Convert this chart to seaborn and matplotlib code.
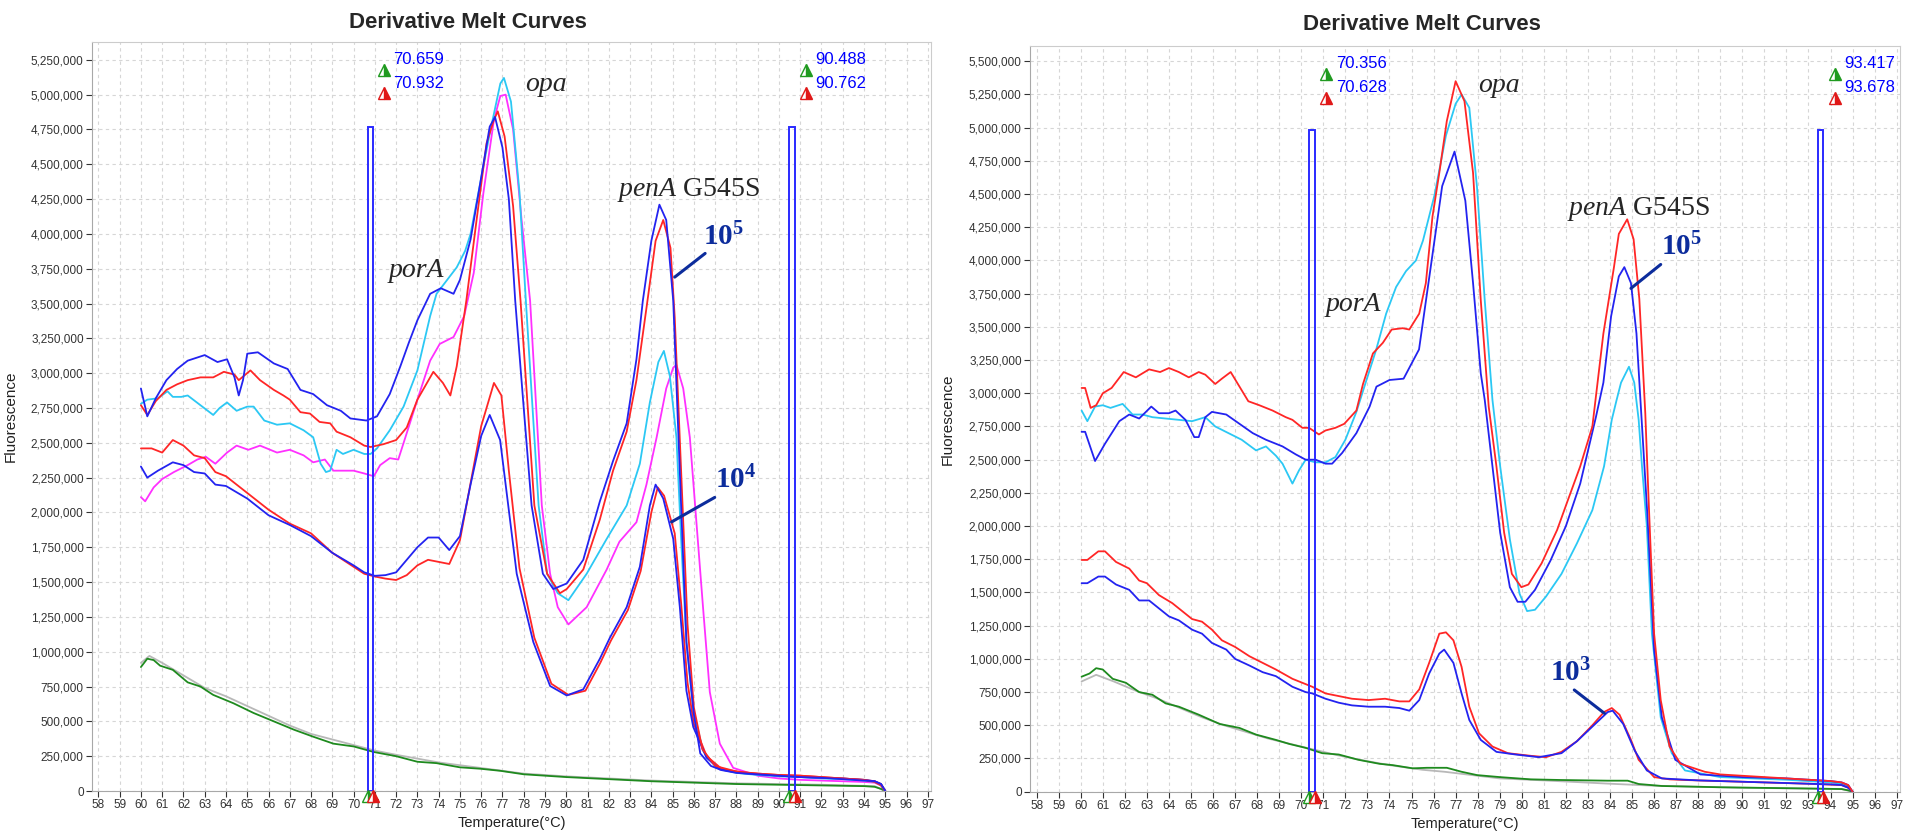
import matplotlib
matplotlib.use('Agg')
import pandas as pd
import matplotlib.pyplot as plt
import matplotlib.ticker as ticker
import matplotlib.transforms as mtransforms
from matplotlib.patches import Rectangle
import seaborn as sns

M = 1e6  # fluorescence values below are in millions

# ---------------- left panel (10^5 / 10^4) ----------------
L_b5_t = [60.0, 60.3, 60.7, 61.2, 61.7, 62.2, 62.6, 63.0, 63.6, 64.05, 64.4, 64.6, 64.8, 65.0, 65.5, 66.25,
          66.9, 67.5, 68.1, 68.75, 69.4, 69.85, 70.6, 71.1, 71.7, 72.2, 72.6, 73.0, 73.6, 74.1, 74.7, 75.0,
          75.5, 75.95, 76.4, 76.65, 77.0, 77.3, 77.6, 78.0, 78.37, 78.9, 79.39, 80.02, 80.8, 81.58, 82.2,
          82.84, 83.3, 83.6, 84.0, 84.38, 84.7, 85.03, 85.4, 85.65, 86.0, 86.3, 86.8, 87.3, 88.0, 89.0,
          90.0, 91.0, 92.0, 93.0, 94.0, 94.5, 94.8, 95.0]
L_b5_v = [2.89, 2.69, 2.82, 2.95, 3.03, 3.09, 3.11, 3.13, 3.08, 3.10, 2.97, 2.84, 2.95, 3.14, 3.15, 3.07,
          3.03, 2.88, 2.85, 2.77, 2.73, 2.675, 2.66, 2.69, 2.85, 3.05, 3.22, 3.38, 3.57, 3.61, 3.57, 3.67,
          3.96, 4.36, 4.77, 4.84, 4.62, 4.25, 3.52, 2.75, 2.05, 1.56, 1.45, 1.49, 1.66, 2.08, 2.37,
          2.64, 3.10, 3.52, 3.95, 4.21, 4.10, 3.52, 2.05, 1.07, 0.55, 0.27, 0.18, 0.15, 0.13, 0.12,
          0.11, 0.10, 0.095, 0.085, 0.075, 0.07, 0.05, 0.0]

L_r5_t = [60.0, 60.3, 60.7, 61.2, 61.7, 62.2, 62.8, 63.4, 63.9, 64.4, 64.6, 65.15, 65.6, 66.25, 66.7, 67.0,
          67.5, 67.95, 68.4, 68.9, 69.2, 69.85, 70.5, 70.8, 71.4, 72.0, 72.5, 73.0, 73.75, 74.2, 74.55,
          74.85, 75.3, 75.8, 76.25, 76.6, 76.78, 77.1, 77.5, 77.85, 78.5, 79.1, 79.7, 80.02, 80.8, 81.58,
          82.2, 82.84, 83.3, 83.8, 84.2, 84.56, 84.9, 85.1, 85.4, 85.7, 86.0, 86.4, 87.0, 88.0, 89.0,
          90.0, 91.0, 92.0, 93.0, 94.0, 94.5, 94.8, 95.0]
L_r5_v = [2.77, 2.70, 2.80, 2.88, 2.92, 2.95, 2.97, 2.97, 3.01, 2.99, 2.95, 3.02, 2.95, 2.88, 2.84, 2.81,
          2.72, 2.71, 2.65, 2.64, 2.58, 2.54, 2.48, 2.47, 2.49, 2.52, 2.61, 2.81, 3.01, 2.93, 2.84,
          3.05, 3.52, 4.12, 4.65, 4.82, 4.88, 4.70, 4.20, 3.52, 2.05, 1.56, 1.42, 1.45, 1.59, 1.95,
          2.30, 2.58, 2.95, 3.50, 3.95, 4.10, 3.90, 3.40, 2.30, 1.20, 0.60, 0.30, 0.18, 0.14, 0.125,
          0.115, 0.11, 0.10, 0.09, 0.08, 0.065, 0.04, 0.0]

L_c5_t = [60.0, 60.3, 60.8, 61.25, 61.5, 61.9, 62.2, 62.8, 63.4, 63.7, 64.05, 64.5, 65.0, 65.3, 65.8, 66.4,
          67.0, 67.65, 68.1, 68.45, 68.7, 68.9, 69.2, 69.5, 70.0, 70.5, 70.8, 71.1, 71.7, 72.35, 73.0,
          73.6, 73.9, 74.4, 74.85, 75.25, 75.5, 75.95, 76.4, 76.9, 77.07, 77.4, 77.8, 78.1, 78.7, 79.1,
          79.6, 80.1, 80.96, 81.9, 82.84, 83.46, 83.93, 84.33, 84.59, 84.87, 85.18, 85.4, 85.65, 85.97,
          86.43, 87.06, 88.0, 89.0, 90.0, 91.0, 92.0, 93.0, 94.0, 94.5, 94.8, 95.0]
L_c5_v = [2.78, 2.81, 2.82, 2.87, 2.83, 2.83, 2.84, 2.77, 2.70, 2.75, 2.79, 2.73, 2.76, 2.76, 2.66, 2.63,
          2.64, 2.59, 2.54, 2.35, 2.29, 2.30, 2.45, 2.42, 2.45, 2.42, 2.42, 2.46, 2.59, 2.76, 3.02,
          3.41, 3.57, 3.67, 3.76, 3.88, 4.00, 4.36, 4.72, 5.08, 5.12, 4.95, 4.30, 3.52, 2.05, 1.56,
          1.42, 1.37, 1.56, 1.81, 2.05, 2.35, 2.79, 3.08, 3.16, 2.98, 2.54, 1.81, 1.07, 0.58,
          0.29, 0.166, 0.13, 0.115, 0.105, 0.10, 0.09, 0.085, 0.075, 0.065, 0.04, 0.0]

L_m5_t = [60.0, 60.2, 60.6, 61.0, 61.55, 62.2, 62.65, 63.05, 63.5, 64.05, 64.5, 65.05, 65.6, 66.4, 67.0,
          67.65, 68.1, 68.65, 69.05, 70.0, 70.5, 70.95, 71.25, 71.7, 72.1, 72.5, 73.0, 73.6, 74.05, 74.7,
          75.2, 75.65, 76.1, 76.6, 76.9, 77.15, 77.5, 77.9, 78.3, 78.85, 79.24, 79.6, 80.1, 80.96, 81.9,
          82.5, 83.3, 83.77, 84.25, 84.7, 85.03, 85.18, 85.5, 85.81, 86.12, 86.43, 86.75, 87.22, 87.85,
          89.0, 90.0, 91.0, 92.0, 93.0, 94.0, 94.5, 94.8, 95.0]
L_m5_v = [2.11, 2.08, 2.18, 2.24, 2.29, 2.34, 2.38, 2.40, 2.35, 2.43, 2.48, 2.45, 2.48, 2.43, 2.45,
          2.41, 2.36, 2.38, 2.30, 2.30, 2.28, 2.26, 2.34, 2.39, 2.38, 2.57, 2.81, 3.09, 3.21, 3.26,
          3.41, 3.72, 4.29, 4.82, 4.99, 5.00, 4.75, 4.10, 3.52, 2.05, 1.56, 1.32, 1.196, 1.32, 1.59,
          1.79, 1.93, 2.20, 2.54, 2.89, 3.04, 3.06, 2.89, 2.54, 1.93, 1.32, 0.71, 0.34, 0.166,
          0.11, 0.09, 0.08, 0.075, 0.07, 0.065, 0.06, 0.04, 0.0]

L_b4_t = [60.0, 60.3, 60.8, 61.5, 62.0, 62.5, 63.0, 63.5, 64.0, 65.0, 66.0, 67.0, 68.0, 69.0, 70.0, 70.5,
          71.0, 71.5, 72.0, 72.5, 73.0, 73.5, 74.0, 74.5, 75.0, 75.5, 76.0, 76.4, 76.89, 77.67, 78.45,
          79.24, 80.02, 80.8, 81.58, 82.05, 82.84, 83.46, 83.93, 84.2, 84.56, 85.03, 85.34, 85.65, 85.97,
          86.59, 87.22, 88.16, 89.0, 90.0, 91.0, 92.0, 93.0, 94.0, 94.5, 94.8, 95.0]
L_b4_v = [2.33, 2.25, 2.30, 2.36, 2.34, 2.29, 2.28, 2.20, 2.19, 2.10, 1.98, 1.91, 1.83, 1.71, 1.62, 1.57,
          1.545, 1.55, 1.57, 1.66, 1.75, 1.82, 1.82, 1.73, 1.83, 2.20, 2.55, 2.70, 2.52, 1.56, 1.07,
          0.754, 0.686, 0.73, 0.95, 1.10, 1.32, 1.61, 2.05, 2.20, 2.10, 1.81, 1.32, 0.72, 0.46,
          0.24, 0.155, 0.13, 0.12, 0.11, 0.10, 0.095, 0.09, 0.08, 0.07, 0.05, 0.0]

L_r4_t = [60.0, 60.5, 61.0, 61.5, 62.0, 62.5, 63.0, 63.5, 64.0, 65.0, 66.0, 67.0, 68.0, 69.0, 70.0, 70.5,
          71.0, 71.5, 72.0, 72.5, 73.0, 73.5, 74.0, 74.5, 75.0, 75.5, 76.0, 76.6, 76.95, 77.3, 77.8,
          78.5, 79.3, 80.1, 80.9, 81.6, 82.1, 82.9, 83.5, 84.0, 84.3, 84.6, 85.1, 85.4, 85.7, 86.0,
          86.6, 87.3, 88.2, 89.0, 90.0, 91.0, 92.0, 93.0, 94.0, 94.5, 94.8, 95.0]
L_r4_v = [2.46, 2.46, 2.43, 2.52, 2.48, 2.41, 2.39, 2.29, 2.26, 2.14, 2.02, 1.92, 1.85, 1.71, 1.61, 1.56,
          1.54, 1.525, 1.515, 1.55, 1.62, 1.66, 1.645, 1.63, 1.80, 2.21, 2.62, 2.93, 2.84, 2.30, 1.60,
          1.10, 0.77, 0.69, 0.72, 0.92, 1.08, 1.30, 1.58, 2.00, 2.18, 2.12, 1.85, 1.35, 0.78, 0.48,
          0.25, 0.16, 0.135, 0.125, 0.115, 0.11, 0.10, 0.09, 0.08, 0.07, 0.05, 0.0]

L_g_t = [60.0, 60.3, 60.6, 60.9, 61.5, 62.2, 62.8, 63.4, 64.35, 65.3, 66.25, 67.2, 68.1, 69.05, 70.0, 70.95,
         72.0, 73.0, 73.9, 75.0, 75.95, 76.9, 78.0, 80.0, 82.0, 84.0, 86.0, 88.0, 90.0, 92.0, 94.0, 94.5,
         94.8, 95.0]
L_g_v = [0.89, 0.95, 0.94, 0.90, 0.87, 0.78, 0.75, 0.69, 0.63, 0.56, 0.50, 0.44, 0.39, 0.34, 0.32, 0.28,
         0.25, 0.21, 0.20, 0.17, 0.16, 0.145, 0.12, 0.10, 0.085, 0.07, 0.06, 0.05, 0.045, 0.04, 0.035, 0.03,
         0.015, 0.0]

L_k_t = [60.0, 60.4, 61.0, 62.0, 63.0, 64.0, 65.0, 66.0, 67.0, 68.0, 69.0, 70.0, 71.0, 72.0, 74.0, 76.0,
         78.0, 80.0, 84.0, 88.0, 92.0, 94.5, 95.0]
L_k_v = [0.92, 0.97, 0.92, 0.83, 0.74, 0.68, 0.61, 0.54, 0.47, 0.41, 0.37, 0.33, 0.29, 0.26, 0.205, 0.165,
         0.125, 0.105, 0.075, 0.055, 0.045, 0.035, 0.0]

# ---------------- right panel (10^5 / 10^3) ----------------
R_r5_t = [60.04, 60.2, 60.45, 60.7, 61.0, 61.4, 61.95, 62.5, 63.1, 63.6, 64.0, 64.45, 64.9, 65.35, 65.65,
          66.1, 66.4, 66.8, 67.2, 67.6, 68.1, 68.7, 69.3, 69.6, 70.05, 70.35, 70.8, 71.1, 71.55, 71.95,
          72.5, 72.8, 73.25, 73.7, 74.1, 74.6, 74.9, 75.35, 75.65, 75.95, 76.26, 76.6, 77.0, 77.4, 77.79,
          78.14, 78.5, 78.85, 79.2, 79.55, 79.98, 80.3, 80.9, 81.6, 82.1, 82.65, 83.2, 83.7, 84.18, 84.4,
          84.78, 85.07, 85.33, 85.6, 85.75, 86.0, 86.3, 86.7, 87.2, 88.3, 89.0, 91.0, 93.0, 94.0, 94.5,
          94.8, 95.0]
R_r5_v = [3.04, 3.04, 2.89, 2.91, 3.00, 3.04, 3.16, 3.12, 3.18, 3.16, 3.19, 3.16, 3.12, 3.16, 3.14,
          3.07, 3.11, 3.16, 3.05, 2.94, 2.91, 2.87, 2.82, 2.80, 2.74, 2.74, 2.69, 2.72, 2.74, 2.77,
          2.87, 3.07, 3.30, 3.38, 3.48, 3.49, 3.48, 3.60, 3.83, 4.33, 4.66, 5.05, 5.35, 5.20, 4.66,
          3.70, 2.90, 2.45, 1.95, 1.64, 1.54, 1.56, 1.72, 1.97, 2.20, 2.45, 2.75, 3.45, 3.95, 4.20,
          4.31, 4.16, 3.71, 2.85, 2.20, 1.19, 0.69, 0.34, 0.21, 0.15, 0.13, 0.11, 0.09, 0.08, 0.07,
          0.05, 0.0]

R_c5_t = [60.04, 60.3, 60.65, 61.0, 61.35, 61.9, 62.35, 62.8, 63.25, 63.85, 64.45, 65.05, 65.65, 66.1,
          66.7, 67.3, 67.95, 68.4, 68.85, 69.15, 69.6, 69.9, 70.2, 70.65, 71.1, 71.55, 72.0, 72.5, 72.9,
          73.4, 73.85, 74.3, 74.75, 75.2, 75.52, 76.04, 76.56, 77.0, 77.27, 77.62, 77.97, 78.32, 78.67,
          79.02, 79.46, 79.9, 80.24, 80.6, 81.1, 81.8, 82.5, 83.2, 83.73, 84.08, 84.3, 84.5, 84.86, 85.1,
          85.3, 85.45, 85.67, 85.9, 86.3, 86.8, 87.4, 89.0, 92.0, 94.0, 94.5, 94.8, 95.0]
R_c5_v = [2.87, 2.79, 2.90, 2.91, 2.89, 2.92, 2.84, 2.84, 2.82, 2.81, 2.80, 2.79, 2.82, 2.75,
          2.70, 2.65, 2.57, 2.60, 2.53, 2.47, 2.32, 2.42, 2.50, 2.48, 2.48, 2.52, 2.65, 2.86, 3.07,
          3.33, 3.60, 3.80, 3.92, 4.00, 4.15, 4.49, 4.94, 5.18, 5.25, 5.15, 4.55, 3.70, 2.95,
          2.45, 1.90, 1.49, 1.36, 1.37, 1.47, 1.64, 1.87, 2.12, 2.45, 2.80, 2.95, 3.08, 3.20, 3.08,
          2.80, 2.45, 2.00, 1.19, 0.56, 0.29, 0.16, 0.11, 0.09, 0.07, 0.06, 0.04, 0.0]

R_b5_t = [60.04, 60.2, 60.65, 61.1, 61.75, 62.2, 62.65, 63.2, 63.55, 64.0, 64.3, 64.75, 65.15, 65.35,
          65.65, 65.95, 66.6, 67.2, 67.8, 68.4, 69.15, 69.75, 70.2, 70.65, 71.1, 71.4, 71.85, 72.5, 73.1,
          73.41, 74.0, 74.64, 75.34, 75.87, 76.39, 76.95, 77.44, 77.79, 78.14, 78.32, 78.67, 79.02, 79.46,
          79.81, 80.16, 80.6, 81.3, 82.0, 82.65, 83.36, 83.7, 84.05, 84.4, 84.65, 84.95, 85.2, 85.38,
          85.7, 86.0, 86.35, 86.96, 88.1, 90.0, 92.0, 94.0, 94.5, 94.8, 95.0]
R_b5_v = [2.71, 2.71, 2.49, 2.62, 2.79, 2.84, 2.81, 2.90, 2.85, 2.85, 2.87, 2.80, 2.67, 2.67,
          2.82, 2.86, 2.84, 2.77, 2.70, 2.65, 2.60, 2.54, 2.50, 2.50, 2.47, 2.47, 2.55, 2.70, 2.90,
          3.05, 3.10, 3.11, 3.33, 3.95, 4.56, 4.82, 4.45, 3.83, 3.15, 2.95, 2.45, 1.95, 1.54,
          1.43, 1.43, 1.52, 1.74, 2.00, 2.32, 2.82, 3.08, 3.58, 3.88, 3.95, 3.83, 3.45, 2.95,
          2.07, 1.07, 0.56, 0.24, 0.13, 0.11, 0.10, 0.08, 0.07, 0.05, 0.0]

R_r3_t = [60.04, 60.3, 60.8, 61.1, 61.6, 62.2, 62.65, 63.0, 63.55, 64.15, 64.75, 65.05, 65.5, 65.95, 66.4,
          67.0, 67.65, 68.25, 68.85, 69.6, 70.05, 70.5, 71.1, 71.7, 72.3, 73.05, 73.8, 74.45, 74.9, 75.35,
          75.8, 76.26, 76.56, 76.9, 77.27, 77.62, 78.06, 78.67, 79.37, 80.42, 81.1, 81.8, 82.5, 83.2,
          83.73, 84.08, 84.43, 84.95, 85.3, 86.0, 86.7, 87.4, 90.0, 93.0, 94.5, 94.8, 95.0]
R_r3_v = [1.745, 1.745, 1.81, 1.81, 1.73, 1.68, 1.59, 1.57, 1.48, 1.42, 1.34, 1.30, 1.28, 1.22, 1.14,
          1.09, 1.02, 0.97, 0.92, 0.85, 0.82, 0.79, 0.74, 0.72, 0.70, 0.69, 0.70, 0.68, 0.68, 0.77,
          0.97, 1.19, 1.20, 1.14, 0.94, 0.64, 0.44, 0.34, 0.29, 0.27, 0.26, 0.30, 0.38, 0.50,
          0.60, 0.63, 0.58, 0.39, 0.24, 0.11, 0.093, 0.088, 0.075, 0.06, 0.05, 0.03, 0.0]

R_b3_t = [60.04, 60.3, 60.8, 61.1, 61.6, 62.2, 62.65, 63.1, 63.55, 64.0, 64.45, 65.05, 65.5, 65.95, 66.6,
          67.0, 67.65, 68.25, 68.85, 69.6, 70.2, 70.5, 71.1, 71.7, 72.3, 73.05, 73.8, 74.45, 74.9, 75.35,
          75.8, 76.26, 76.48, 76.9, 77.27, 77.62, 78.14, 78.85, 79.72, 80.77, 81.8, 82.5, 83.2, 83.9,
          84.12, 84.6, 85.12, 85.67, 86.35, 88.0, 91.0, 94.0, 94.5, 94.8, 95.0]
R_b3_v = [1.57, 1.57, 1.62, 1.62, 1.56, 1.52, 1.44, 1.44, 1.38, 1.32, 1.29, 1.22, 1.19, 1.12, 1.07,
          1.00, 0.95, 0.90, 0.87, 0.79, 0.75, 0.74, 0.70, 0.67, 0.65, 0.64, 0.64, 0.63, 0.61, 0.69,
          0.89, 1.04, 1.07, 0.97, 0.74, 0.54, 0.39, 0.30, 0.28, 0.26, 0.29, 0.38, 0.49, 0.60,
          0.61, 0.51, 0.31, 0.16, 0.10, 0.085, 0.07, 0.055, 0.05, 0.03, 0.0]

R_g_t = [60.04, 60.4, 60.7, 61.0, 61.45, 62.05, 62.65, 63.25, 63.85, 64.45, 65.35, 66.3, 67.2, 67.95, 68.85,
         69.45, 70.2, 70.95, 71.7, 72.6, 73.55, 74.15, 75.05, 75.7, 76.6, 77.27, 77.97, 79.0, 80.4, 81.8,
         83.9, 84.8, 85.3, 86.35, 89.1, 92.6, 94.5, 94.8, 95.0]
R_g_v = [0.866, 0.89, 0.93, 0.92, 0.85, 0.82, 0.75, 0.73, 0.665, 0.64, 0.58, 0.51, 0.48, 0.43, 0.39,
         0.36, 0.33, 0.29, 0.28, 0.24, 0.21, 0.20, 0.176, 0.18, 0.18, 0.15, 0.125, 0.11, 0.093, 0.088,
         0.083, 0.083, 0.058, 0.043, 0.033, 0.025, 0.02, 0.01, 0.0]

R_k_t = [60.04, 60.7, 61.5, 62.5, 63.5, 64.5, 65.5, 66.5, 67.5, 68.5, 69.5, 70.5, 71.5, 72.5, 74.0, 75.5,
         76.5, 77.5, 79.0, 81.0, 84.0, 86.0, 90.0, 94.5, 95.0]
R_k_v = [0.83, 0.88, 0.83, 0.76, 0.70, 0.63, 0.56, 0.50, 0.45, 0.40, 0.36, 0.32, 0.28, 0.245, 0.20, 0.165,
         0.15, 0.13, 0.10, 0.085, 0.06, 0.045, 0.03, 0.02, 0.0]

# melt region markers (start, end)
L_regions = [(70.659, 70.932), (90.488, 90.762)]
R_regions = [(70.356, 70.628), (93.417, 93.678)]

BLUE, RED, CYAN, MAGENTA = '#2323f0', '#ff2626', '#2bc8f4', '#ff30ff'
GREEN, GRAY, NAVY = '#1e8a1e', '#b8b8b8', '#0c2c9c'

left_curves = {
    'gray': (L_k_t, L_k_v, GRAY), 'green': (L_g_t, L_g_v, GREEN),
    'magenta5': (L_m5_t, L_m5_v, MAGENTA), 'cyan5': (L_c5_t, L_c5_v, CYAN),
    'red4': (L_r4_t, L_r4_v, RED), 'blue4': (L_b4_t, L_b4_v, BLUE),
    'red5': (L_r5_t, L_r5_v, RED), 'blue5': (L_b5_t, L_b5_v, BLUE),
}
right_curves = {
    'gray': (R_k_t, R_k_v, GRAY), 'green': (R_g_t, R_g_v, GREEN),
    'cyan5': (R_c5_t, R_c5_v, CYAN), 'red3': (R_r3_t, R_r3_v, RED),
    'blue3': (R_b3_t, R_b3_v, BLUE), 'blue5': (R_b5_t, R_b5_v, BLUE),
    'red5': (R_r5_t, R_r5_v, RED),
}

sns.set_style('whitegrid', {'grid.color': '#d6d6d6', 'grid.linestyle': (0, (3, 3)),
                            'axes.edgecolor': '#a8a8a8'})
plt.rcParams['font.family'] = ['Liberation Sans', 'DejaVu Sans']
plt.rcParams['mathtext.fontset'] = 'custom'
plt.rcParams['mathtext.rm'] = 'Liberation Serif'
plt.rcParams['mathtext.it'] = 'Liberation Serif:italic'
plt.rcParams['mathtext.bf'] = 'Liberation Serif:bold'


def long_frame(curves):
    rows = []
    for name, (t, v, _) in curves.items():
        for x, y in zip(t, v):
            rows.append({'curve': name, 'temp': x, 'fluor': y * M})
    return pd.DataFrame(rows)


def draw_panel(ax, curves, regions, bar_top, ylim, ymax_tick, lab_y, tri_y):
    df = long_frame(curves)
    palette = {k: c for k, (_, _, c) in curves.items()}
    sns.lineplot(data=df, x='temp', y='fluor', hue='curve', hue_order=list(curves),
                 palette=palette, estimator=None, sort=False, legend=False, lw=1.3, ax=ax)

    ax.set_xlim(57.7, 97.15)
    ax.set_ylim(0, ylim)
    ax.set_xticks(range(58, 98))
    ax.set_yticks([i * 250000 for i in range(int(ymax_tick / 250000) + 1)])
    ax.yaxis.set_major_formatter(ticker.FuncFormatter(lambda v, p: f'{int(v):,}'))
    ax.tick_params(axis='both', labelsize=8.5, colors='#333333', length=4, width=0.8,
                   direction='out', bottom=True, left=True, pad=2)
    ax.grid(True, lw=0.8)
    for side in ['top', 'right']:
        ax.spines[side].set_color('#cccccc')
    ax.set_xlabel('Temperature(°C)', fontsize=10.5, color='#222222')
    ax.set_ylabel('Fluorescence', fontsize=11, color='#222222')

    below = mtransforms.offset_copy(ax.transData, fig=ax.figure, x=0, y=-5, units='dots')
    for a, b in regions:
        ax.add_patch(Rectangle((a, 0), b - a, bar_top, fill=False, edgecolor='#2a2aff', lw=1.4, zorder=5))
        for x, col in [(a, '#1f9a1f'), (b, '#e01818')]:
            ax.plot([x], [0], marker='^', ms=9, color=col, mec=col, fillstyle='right',
                    markerfacecoloralt='white', transform=below, clip_on=False, zorder=6)
        ax.plot([a + 0.78], [tri_y[0]], marker='^', ms=8, color='#1f9a1f', mec='#1f9a1f',
                fillstyle='right', markerfacecoloralt='white', clip_on=False)
        ax.plot([a + 0.78], [tri_y[1]], marker='^', ms=8, color='#e01818', mec='#e01818',
                fillstyle='right', markerfacecoloralt='white', clip_on=False)
        ax.text(a + 1.22, lab_y[0], f'{a:.3f}', color='#0000ff', fontsize=12, ha='left', va='center')
        ax.text(a + 1.22, lab_y[1], f'{b:.3f}', color='#0000ff', fontsize=12, ha='left', va='center')


fig = plt.figure(figsize=(19.05, 8.35), dpi=100)
ax_l = fig.add_axes([92 / 1905, 44 / 835, 839 / 1905, 749 / 835])
ax_r = fig.add_axes([1030 / 1905, 43.3 / 835, 870 / 1905, 745.7 / 835])

draw_panel(ax_l, left_curves, L_regions, 4.77e6, 5.378e6, 5.25e6, (5.25e6, 5.08e6), (5.18e6, 5.01e6))
draw_panel(ax_r, right_curves, R_regions, 4.98e6, 5.615e6, 5.5e6, (5.485e6, 5.30e6), (5.404e6, 5.226e6))

for ax, yx in [(ax_l, -0.088), (ax_r, -0.086)]:
    ax.yaxis.set_label_coords(yx, 0.5)
    ax.xaxis.set_label_coords(0.5, -0.034)

serif = 'Liberation Serif'
# left panel labels
ax_l.text(71.63, 3.74e6, 'porA', family=serif, style='italic', fontsize=20, ha='left', va='center')
ax_l.text(78.09, 5.07e6, 'opa', family=serif, style='italic', fontsize=20, ha='left', va='center')
ax_l.text(82.4, 4.315e6, r'$\mathit{penA}$ G545S', family=serif, fontsize=20, ha='left', va='center')
ax_l.text(86.45, 3.98e6, r'$\mathbf{10^{5}}$', color=NAVY, fontsize=21, ha='left', va='center')
ax_l.plot([86.53, 85.1], [3.86e6, 3.69e6], color=NAVY, lw=2.2)
ax_l.text(86.98, 2.235e6, r'$\mathbf{10^{4}}$', color=NAVY, fontsize=21, ha='left', va='center')
ax_l.plot([86.98, 84.95], [2.108e6, 1.932e6], color=NAVY, lw=2.2)

# right panel labels
ax_r.text(71.12, 3.665e6, 'porA', family=serif, style='italic', fontsize=20, ha='left', va='center')
ax_r.text(78.0, 5.32e6, 'opa', family=serif, style='italic', fontsize=20, ha='left', va='center')
ax_r.text(82.05, 4.385e6, r'$\mathit{penA}$ G545S', family=serif, fontsize=20, ha='left', va='center')
ax_r.text(86.3, 4.10e6, r'$\mathbf{10^{5}}$', color=NAVY, fontsize=21, ha='left', va='center')
ax_r.plot([86.3, 84.95], [3.97e6, 3.79e6], color=NAVY, lw=2.2)
ax_r.text(81.26, 0.89e6, r'$\mathbf{10^{3}}$', color=NAVY, fontsize=21, ha='left', va='center')
ax_r.plot([82.38, 83.75], [0.766e6, 0.59e6], color=NAVY, lw=2.2)

fig.text(468 / 1905, 1 - 22 / 835, 'Derivative Melt Curves', fontsize=16, fontweight='bold',
         ha='center', va='center')
fig.text(1422 / 1905, 1 - 25 / 835, 'Derivative Melt Curves', fontsize=16, fontweight='bold',
         ha='center', va='center')

fig.savefig('out.png', dpi=100, facecolor='white')
